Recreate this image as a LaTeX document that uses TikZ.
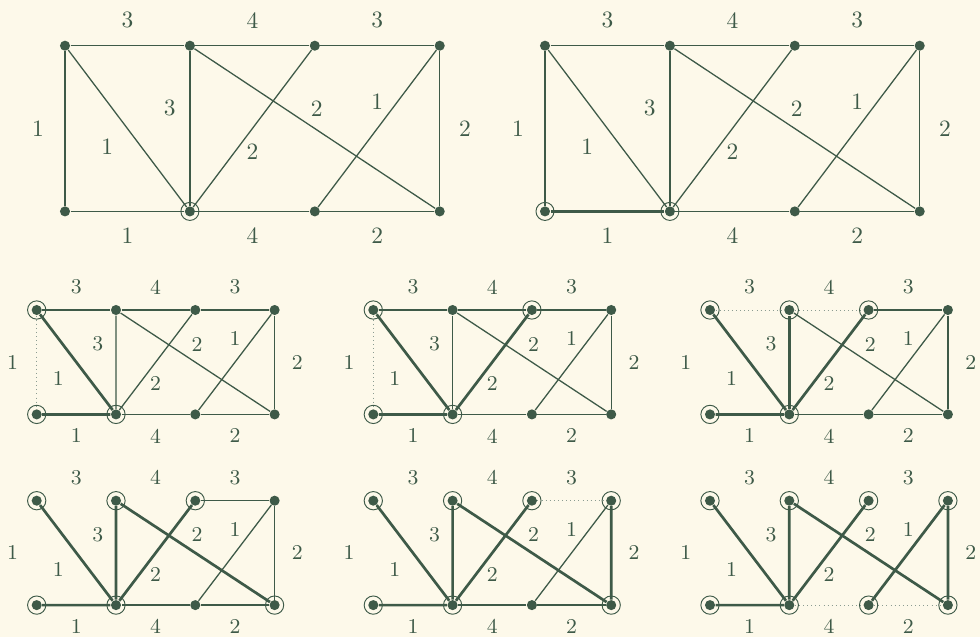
\documentclass[tikz,border=0pt]{standalone}
\usepackage{xcolor}
\usepackage{tikz}
\usetikzlibrary{calc}

\definecolor{paper}{HTML}{FDF9EA}
\definecolor{ink}{HTML}{3E5A48}

% the eight vertices of one panel (#1 = panel prefix)
\newcommand{\vertices}[1]{%
  \node[vtx] (#1n1) at (0,0) {};
  \node[vtx] (#1n2) at (1,0) {};
  \node[vtx] (#1n3) at (2,0) {};
  \node[vtx] (#1n4) at (3,0) {};
  \node[vtx] (#1s1) at (0,1) {};
  \node[vtx] (#1s2) at (1,1) {};
  \node[vtx] (#1s3) at (2,1) {};
  \node[vtx] (#1s4) at (3,1) {};
}

% edge weights of one panel (#2 = offset unit)
\newcommand{\weights}[2]{%
  \path (#1n1) -- node[wt, yshift=1.09*#2] {3} (#1n2)
        (#1n2) -- node[wt, yshift=1.09*#2] {4} (#1n3)
        (#1n3) -- node[wt, yshift=1.09*#2] {3} (#1n4)
        (#1s1) -- node[wt, yshift=-1.02*#2] {1} (#1s2)
        (#1s2) -- node[wt, yshift=-1.02*#2] {4} (#1s3)
        (#1s3) -- node[wt, yshift=-1.02*#2] {2} (#1s4)
        (#1n1) -- node[wt, xshift=-1.15*#2] {1} (#1s1)
        (#1n4) -- node[wt, xshift=1.08*#2] {2} (#1s4)
        (#1n1) -- node[wt, xshift=-.86*#2, yshift=-.78*#2] {1} (#1s2)
        (#1n2) -- node[wt, xshift=-.86*#2, yshift=.88*#2] {3} (#1s2)
        (#1n3) -- node[wt, yshift=-1.0*#2] {2} (#1s2)
        (#1n2) -- node[wt, xshift=.08*#2, yshift=.86*#2] {2} (#1s4)
        (#1n4) -- node[wt, yshift=1.13*#2] {1} (#1s3);
}

\begin{document}
\begin{tikzpicture}[
  x=0.015cm, y=-0.015cm,
  vtx/.style={circle, fill=ink, inner sep=0pt, minimum size=4.3pt},
  wt/.style={text=ink, font=\normalsize, inner sep=0pt},
  edge/.style={draw=ink, line width=0.55pt},
  tree/.style={draw=ink, line width=1.15pt},
  gone/.style={draw=ink!60, line width=0.4pt, dash pattern=on 0.45pt off 1.3pt},
  ring/.style={draw=ink, line width=0.4pt},
  big/.style={x=1.8735cm, y=-2.4855cm},
  small/.style={x=1.1895cm, y=-1.566cm, wt/.append style={font=\small}},
]
  \useasboundingbox (0,0) rectangle (980,637);
  \fill[paper] (0,0) rectangle (980,637);

  % --- start: only the root --------------------------------------------
  \begin{scope}[shift={(65,45.7)}, big]
    \vertices{A} \weights{A}{10pt}
    \draw[edge] (An1) -- (An2) -- (An3) -- (An4) -- (As4) -- (As3) -- (As2) -- (As1) -- (An1);
    \draw[edge] (An1) -- (As2) -- (An3);
    \draw[edge] (An2) -- (As2);
    \draw[edge] (An2) -- (As4);
    \draw[edge] (An4) -- (As3);
    \draw[ring] (As2) circle[radius=3.85pt];
  \end{scope}

  % --- step 1 ------------------------------------------------------------
  \begin{scope}[shift={(545,45.7)}, big]
    \vertices{B} \weights{B}{10pt}
    \draw[edge] (Bs2) -- (Bn2) -- (Bn1) -- (Bs1);
    \draw[edge] (Bn2) -- (Bn3) -- (Bn4) -- (Bs4) -- (Bs3) -- (Bs2);
    \draw[edge] (Bn1) -- (Bs2) -- (Bn3);
    \draw[edge] (Bn2) -- (Bs4);
    \draw[edge] (Bn4) -- (Bs3);
    \draw[tree] (Bs1) -- (Bs2);
    \draw[ring] (Bs1) circle[radius=3.85pt];
    \draw[ring] (Bs2) circle[radius=3.85pt];
  \end{scope}

  % --- step 2 ------------------------------------------------------------
  \begin{scope}[shift={(36.7,310)}, small]
    \vertices{C} \weights{C}{9pt}
    \draw[edge] (Cn1) -- (Cn2) -- (Cn3) -- (Cn4) -- (Cs4) -- (Cs3) -- (Cs2);
    \draw[edge] (Cn2) -- (Cs2) -- (Cn3);
    \draw[edge] (Cn2) -- (Cs4);
    \draw[edge] (Cn4) -- (Cs3);
    \draw[gone] (Cn1) -- (Cs1);
    \draw[tree] (Cs1) -- (Cs2) -- (Cn1);
    \foreach \v in {n1,s1,s2} \draw[ring] (C\v) circle[radius=3.9pt];
  \end{scope}

  % --- step 3 ------------------------------------------------------------
  \begin{scope}[shift={(373.3,310)}, small]
    \vertices{D} \weights{D}{9pt}
    \draw[edge] (Dn1) -- (Dn2) -- (Dn3) -- (Dn4) -- (Ds4) -- (Ds3) -- (Ds2);
    \draw[edge] (Dn2) -- (Ds2);
    \draw[edge] (Dn2) -- (Ds4);
    \draw[edge] (Dn4) -- (Ds3);
    \draw[gone] (Dn1) -- (Ds1);
    \draw[tree] (Ds1) -- (Ds2) -- (Dn1);
    \draw[tree] (Ds2) -- (Dn3);
    \foreach \v in {n1,n3,s1,s2} \draw[ring] (D\v) circle[radius=3.9pt];
  \end{scope}

  % --- step 4 ------------------------------------------------------------
  \begin{scope}[shift={(710,310)}, small]
    \vertices{E} \weights{E}{9pt}
    \draw[edge] (En3) -- (En4) -- (Es4) -- (Es3) -- (Es2);
    \draw[edge] (En2) -- (Es4);
    \draw[edge] (En4) -- (Es3);
    \draw[gone] (En1) -- (En2) -- (En3);
    \draw[tree] (Es1) -- (Es2) -- (En1);
    \draw[tree] (Es2) -- (En3);
    \draw[tree] (Es2) -- (En2);
    \foreach \v in {n1,n2,n3,s1,s2} \draw[ring] (E\v) circle[radius=3.9pt];
  \end{scope}

  % --- step 5 ------------------------------------------------------------
  \begin{scope}[shift={(36.7,500.7)}, small]
    \vertices{F} \weights{F}{9pt}
    \draw[edge] (Fn3) -- (Fn4) -- (Fs4) -- (Fs3) -- (Fs2);
    \draw[edge] (Fn4) -- (Fs3);
    \draw[tree] (Fs1) -- (Fs2) -- (Fn1);
    \draw[tree] (Fs2) -- (Fn3);
    \draw[tree] (Fs2) -- (Fn2) -- (Fs4);
    \foreach \v in {n1,n2,n3,s1,s2,s4} \draw[ring] (F\v) circle[radius=3.9pt];
  \end{scope}

  % --- step 6 ------------------------------------------------------------
  \begin{scope}[shift={(373.3,500.7)}, small]
    \vertices{G} \weights{G}{9pt}
    \draw[edge] (Gs2) -- (Gs3) -- (Gs4);
    \draw[edge] (Gn4) -- (Gs3);
    \draw[gone] (Gn3) -- (Gn4);
    \draw[tree] (Gs1) -- (Gs2) -- (Gn1);
    \draw[tree] (Gs2) -- (Gn3);
    \draw[tree] (Gs2) -- (Gn2) -- (Gs4) -- (Gn4);
    \foreach \v in {n1,n2,n3,n4,s1,s2,s4} \draw[ring] (G\v) circle[radius=3.9pt];
  \end{scope}

  % --- step 7: spanning tree --------------------------------------------
  \begin{scope}[shift={(710,500.7)}, small]
    \vertices{H} \weights{H}{9pt}
    \draw[gone] (Hs2) -- (Hs3) -- (Hs4);
    \draw[tree] (Hs1) -- (Hs2) -- (Hn1);
    \draw[tree] (Hs2) -- (Hn3);
    \draw[tree] (Hs2) -- (Hn2) -- (Hs4) -- (Hn4) -- (Hs3);
    \foreach \v in {n1,n2,n3,n4,s1,s2,s3,s4} \draw[ring] (H\v) circle[radius=3.9pt];
  \end{scope}
\end{tikzpicture}
\end{document}
